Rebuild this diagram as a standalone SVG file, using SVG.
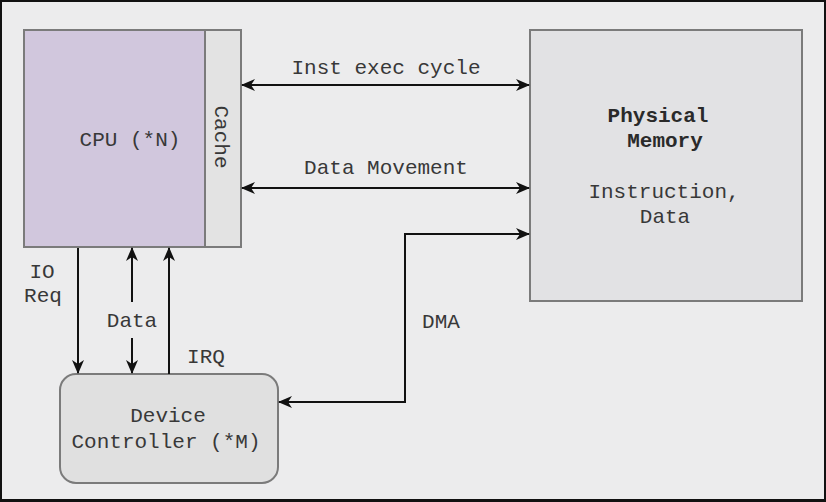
<svg xmlns="http://www.w3.org/2000/svg" width="826" height="502" viewBox="0 0 826 502">
<defs>
<style>
.t{font-family:"Liberation Mono","Courier New",monospace;font-size:21px;fill:#383838}
.b{font-weight:bold;fill:#2a2a2a}
.box{stroke:#7b7b7b;stroke-width:2}
.ln{stroke:#111;stroke-width:2;fill:none}
</style>
<marker id="ah" viewBox="0 0 14 12" refX="13" refY="6" markerWidth="14" markerHeight="12" markerUnits="userSpaceOnUse" orient="auto-start-reverse">
<path d="M0,0 L14,6 L0,12 L4,6 Z" fill="#111"/>
</marker>
</defs>
<rect x="0" y="0" width="826" height="502" fill="#111"/>
<rect x="2" y="2" width="822" height="497" fill="#ececed"/>
<g id="cpu">
<rect class="box" x="24" y="30" width="181" height="217" fill="#d1c7dd"/>
<text class="t" x="130" y="146" text-anchor="middle">CPU (*N)</text>
</g>
<g id="cache">
<rect class="box" x="205" y="30" width="36" height="217" fill="#e3e3e3"/>
<text class="t" transform="translate(215,137) rotate(90)" text-anchor="middle">Cache</text>
</g>
<g id="memory">
<rect class="box" x="530" y="30" width="272" height="271" fill="#e2e2e4"/>
<text class="t b" x="658" y="122" text-anchor="middle">Physical</text>
<text class="t b" x="665" y="147" text-anchor="middle">Memory</text>
<text class="t" x="664" y="198" text-anchor="middle">Instruction,</text>
<text class="t" x="665" y="223" text-anchor="middle">Data</text>
</g>
<g id="device">
<rect class="box" x="60" y="374" width="218" height="109" rx="16" fill="#e0e0e0"/>
<text class="t" x="168" y="422" text-anchor="middle">Device</text>
<text class="t" x="166" y="448" text-anchor="middle">Controller (*M)</text>
</g>
<g id="connectors">
<line class="ln" x1="242" y1="85" x2="529" y2="85" marker-start="url(#ah)" marker-end="url(#ah)"/>
<line class="ln" x1="242" y1="188" x2="529" y2="188" marker-start="url(#ah)" marker-end="url(#ah)"/>
<polyline class="ln" points="529,234 405,234 405,402 279,402" marker-start="url(#ah)" marker-end="url(#ah)"/>
<line class="ln" x1="78" y1="248" x2="78" y2="373" marker-end="url(#ah)"/>
<line class="ln" x1="132" y1="302" x2="132" y2="248" marker-end="url(#ah)"/>
<line class="ln" x1="132" y1="338" x2="132" y2="373" marker-end="url(#ah)"/>
<line class="ln" x1="169" y1="374" x2="169" y2="248" marker-end="url(#ah)"/>
<text class="t" x="386" y="74" text-anchor="middle">Inst exec cycle</text>
<text class="t" x="386" y="174" text-anchor="middle">Data Movement</text>
<text class="t" x="441" y="328" text-anchor="middle">DMA</text>
<text class="t" x="42" y="278" text-anchor="middle">IO</text>
<text class="t" x="43" y="302" text-anchor="middle">Req</text>
<text class="t" x="132" y="327" text-anchor="middle">Data</text>
<text class="t" x="206" y="363" text-anchor="middle">IRQ</text>
</g>
</svg>
